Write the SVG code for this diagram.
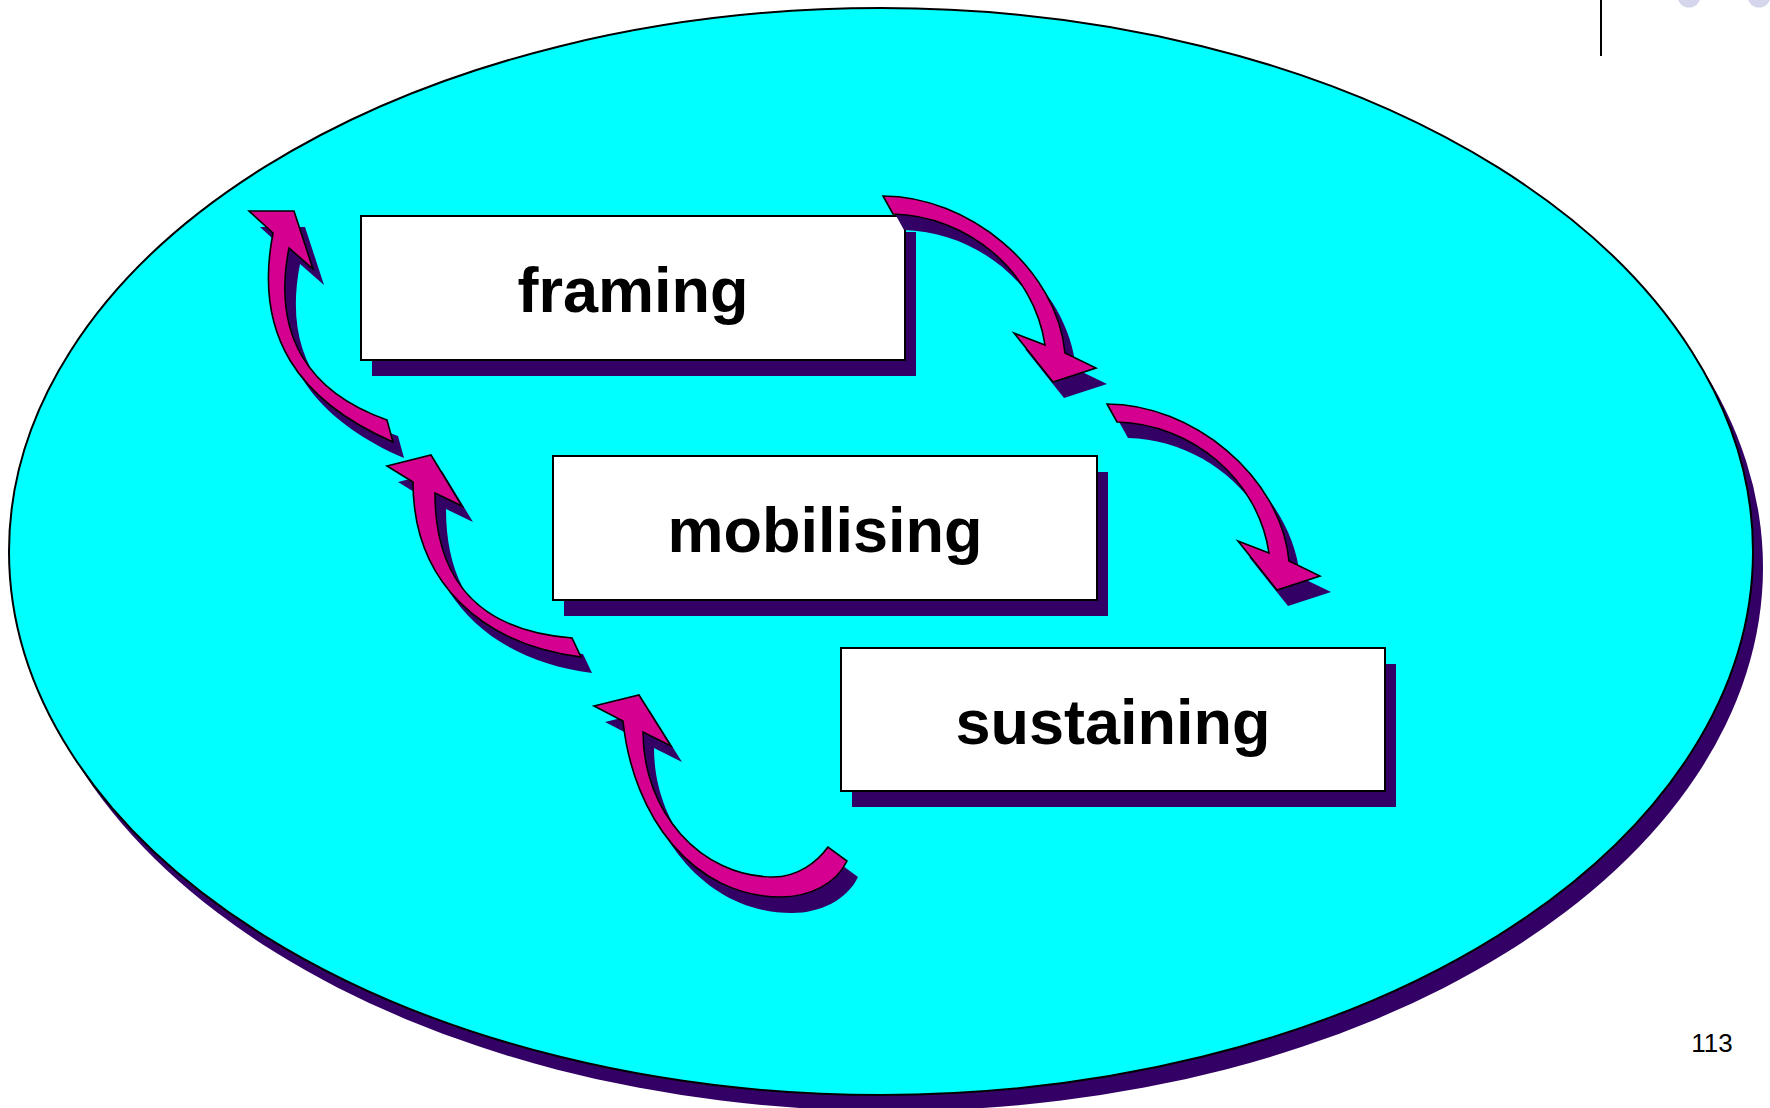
<svg xmlns="http://www.w3.org/2000/svg" width="1770" height="1108" viewBox="0 0 1770 1108">
<style>
.sh{fill:#330066;stroke:none}
.ar{fill:#D5008F;stroke:#000;stroke-width:1.6;stroke-linejoin:miter}
.box{fill:#fff;stroke:#000;stroke-width:2}
.lbl{font-family:"Liberation Sans",Arial,sans-serif;font-weight:bold;font-size:63px;fill:#000;text-anchor:middle}
</style>
<defs>
<path id="a1" d="M249,211 L294,211 L313,269 L289,248 C272,335 308,392 387,420 L393,442 C299,401 253,336 273,233 Z"/>
<path id="a2" d="M387,466 L431,455 L462,506 L435,493 C435,583 482,631 572,638 L581,657 C481,644 413,582 413,482 Z"/>
<path id="a3" d="M594,706 L639,695 L671,746 L643,732 C643,812 701,877 773,877 C798,877 817,862 828,847 L847,861 C836,884 809,897 781,897 C694,897 633,818 623,721 Z"/>
<path id="a4" d="M1014,333 L1053,382 L1096,368 L1065,353 C1057,268 968,196 883,196 L893,214 C968,216 1034,271 1045,345 Z"/>
</defs>
<rect width="1770" height="1108" fill="#fff"/>
<g id="decor">
<circle cx="1689" cy="-4" r="11.5" fill="#D5D5EB"/>
<circle cx="1759" cy="-4" r="11.5" fill="#D5D5EB"/>
<line x1="1601" y1="0" x2="1601" y2="56" stroke="#000" stroke-width="2"/>
</g>
<g id="background">
<ellipse cx="891" cy="567.5" rx="872" ry="543.5" fill="#330066"/>
<ellipse cx="881" cy="551.5" rx="872" ry="543.5" fill="#00FFFF" stroke="#000" stroke-width="2"/>
</g>
<g id="framing">
<rect x="372" y="232" width="544" height="144" fill="#330066"/>
<rect x="361" y="216" width="544" height="144" class="box"/>
<text x="633" y="312" class="lbl">framing</text>
</g>
<g id="mobilising">
<rect x="564" y="472" width="544" height="144" fill="#330066"/>
<rect x="553" y="456" width="544" height="144" class="box"/>
<text x="825" y="552" class="lbl">mobilising</text>
</g>
<g id="sustaining">
<rect x="852" y="664" width="544" height="143" fill="#330066"/>
<rect x="841" y="648" width="544" height="143" class="box"/>
<text x="1113" y="744" class="lbl">sustaining</text>
</g>
<g id="connectors">
<use href="#a1" class="sh" transform="translate(11,16)"/>
<use href="#a1" class="ar"/>
<use href="#a2" class="sh" transform="translate(11,16)"/>
<use href="#a2" class="ar"/>
<use href="#a3" class="sh" transform="translate(11,16)"/>
<use href="#a3" class="ar"/>
<use href="#a4" class="sh" transform="translate(11,16)"/>
<use href="#a4" class="ar"/>
<use href="#a4" class="sh" transform="translate(235,224)"/>
<use href="#a4" class="ar" transform="translate(224,208)"/>
</g>
<text x="1712" y="1052" font-family="Liberation Sans, Arial, sans-serif" font-size="26" text-anchor="middle" fill="#000">113</text>
</svg>
